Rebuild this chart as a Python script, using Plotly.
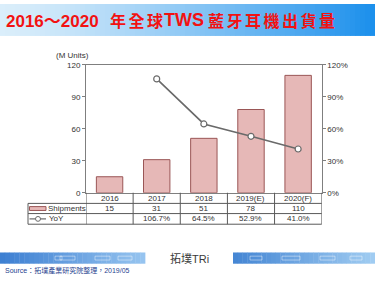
import plotly.graph_objects as go

# ---------------- data ----------------
categories = ["2016", "2017", "2018", "2019(E)", "2020(F)"]
shipments = [15, 31, 51, 78, 110]
yoy = [None, 106.7, 64.5, 52.9, 41.0]
yoy_labels = ["", "106.7%", "64.5%", "52.9%", "41.0%"]
left_ticks = [0, 30, 60, 90, 120]
right_ticks = [0, 30, 60, 90, 120]
right_tick_labels = ["0%", "30%", "60%", "90%", "120%"]

W, H = 375, 281
def py(p):
    return 1 - p / H
def px(p):
    return p / W

X0, X1 = 86, 321.7
Y0, Y1 = 62.7, 195

fig = go.Figure()
fig.add_trace(go.Bar(x=categories, y=shipments, marker=dict(color="#E6B8B7", line=dict(color="#9A5656", width=1)),
                     width=0.56, yaxis="y", showlegend=False, hoverinfo="skip"))
fig.add_trace(go.Scatter(x=categories, y=yoy, yaxis="y2", mode="lines+markers",
                         line=dict(color="#6A6A6A", width=1.6),
                         marker=dict(symbol="circle", size=6, color="white", line=dict(color="#6A6A6A", width=1.2)),
                         showlegend=False, hoverinfo="skip"))

shapes = []
# title banner gradient
n = 75
c0 = (218, 238, 251)
c1 = (28, 144, 236)
for i in range(n):
    t = i / (n - 1)
    t2 = t ** 1.3
    col = tuple(int(c0[k] + (c1[k] - c0[k]) * t2) for k in range(3))
    shapes.append(dict(type="rect", xref="paper", yref="paper", x0=px(W * i / n), x1=px(W * (i + 1) / n) + 0.002,
                       y0=py(33), y1=py(0), fillcolor="rgb(%d,%d,%d)" % col, line=dict(width=0), layer="below"))

# footer stripes
def stripe(xa, xb, ca, cb):
    m = 30
    for i in range(m):
        t = i / (m - 1)
        col = tuple(int(ca[k] + (cb[k] - ca[k]) * t) for k in range(3))
        shapes.append(dict(type="rect", xref="paper", yref="paper",
                           x0=px(xa + (xb - xa) * i / m), x1=px(xa + (xb - xa) * (i + 1) / m) + 0.001,
                           y0=py(268.3), y1=py(256.7), fillcolor="rgb(%d,%d,%d)" % col, line=dict(width=0), layer="below"))
stripe(0, 145, (62, 128, 210), (150, 196, 240))
stripe(233, 375, (70, 135, 212), (160, 204, 242))
for xa, xb in [(55, 62), (60, 75), (95, 110), (118, 132), (250, 262), (282, 300), (320, 335), (350, 362)]:
    shapes.append(dict(type="rect", xref="paper", yref="paper", x0=px(xa), x1=px(xb), y0=py(264.5), y1=py(260.5),
                       line=dict(color="rgba(255,255,255,0.55)", width=0.8), fillcolor="rgba(0,0,0,0)"))

# table grid
grid = "#5A5A5A"
tl, tr = 28, X1
rows = [206, 216.5, 227.5]
for r in rows:
    shapes.append(dict(type="line", xref="paper", yref="paper", x0=px(tl), x1=px(tr), y0=py(r), y1=py(r),
                       line=dict(color=grid, width=1)))
shapes.append(dict(type="line", xref="paper", yref="paper", x0=px(tl), x1=px(tl), y0=py(206), y1=py(227.5),
                   line=dict(color=grid, width=1)))
for b in range(len(categories) + 1):
    shapes.append(dict(type="line", xref="x", yref="paper", x0=b - 0.5, x1=b - 0.5, y0=py(195), y1=py(227.5),
                       line=dict(color=grid, width=1)))
# legend swatches
shapes.append(dict(type="rect", xref="paper", yref="paper", x0=px(29.5), x1=px(46), y0=py(213.3), y1=py(209.3),
                   fillcolor="#E6B8B7", line=dict(color="#9A5656", width=1)))
shapes.append(dict(type="line", xref="paper", yref="paper", x0=px(29.5), x1=px(46), y0=py(222), y1=py(222),
                   line=dict(color="#6A6A6A", width=1.2)))
shapes.append(dict(type="circle", xref="paper", yref="paper", x0=px(35.5), x1=px(40.5), y0=py(224.5), y1=py(219.5),
                   fillcolor="white", line=dict(color="#6A6A6A", width=1)))

ann = []
red = "#F21212"
ann.append(dict(text='2016<span style="font-family:Noto Sans CJK TC">～</span>2020', x=px(4), y=py(16.5),
                xref="paper", yref="paper", xanchor="left", yanchor="middle",
                showarrow=False, font=dict(family="Liberation Sans, Arial", size=17, color=red, weight="bold")))
ann.append(dict(text='<span style="letter-spacing:2.5px">年全球</span>', x=px(108), y=py(17), xref="paper", yref="paper",
                xanchor="left", yanchor="middle", showarrow=False,
                font=dict(family="Noto Sans CJK TC", size=16, color=red, weight="bold")))
ann.append(dict(text="TWS", x=px(162), y=py(16.5), xref="paper", yref="paper", xanchor="left", yanchor="middle",
                showarrow=False, font=dict(family="Liberation Sans, Arial", size=18, color=red, weight="bold")))
ann.append(dict(text='<span style="letter-spacing:2.5px">藍牙耳機出貨量</span>', x=px(206), y=py(17), xref="paper", yref="paper",
                xanchor="left", yanchor="middle", showarrow=False,
                font=dict(family="Noto Sans CJK TC", size=16, color=red, weight="bold")))

tf = dict(family="Liberation Sans, Arial", size=8, color="#333333")
ann.append(dict(text="(M Units)", x=px(91), y=py(53.3), xref="paper", yref="paper", xanchor="right", yanchor="middle",
                showarrow=False, font=tf))
for i, c in enumerate(categories):
    ann.append(dict(text=c, x=i, y=py(200.5), xref="x", yref="paper", xanchor="center", yanchor="middle",
                    showarrow=False, font=tf))
    ann.append(dict(text=str(shipments[i]), x=i, y=py(211.3), xref="x", yref="paper", xanchor="center", yanchor="middle",
                    showarrow=False, font=tf))
    ann.append(dict(text=yoy_labels[i], x=i, y=py(222), xref="x", yref="paper", xanchor="center", yanchor="middle",
                    showarrow=False, font=tf))
ann.append(dict(text="Shipments", x=px(46.3), y=py(211.3), xref="paper", yref="paper", xanchor="left", yanchor="middle",
                showarrow=False, font=tf))
ann.append(dict(text="YoY", x=px(47), y=py(222), xref="paper", yref="paper", xanchor="left", yanchor="middle",
                showarrow=False, font=tf))
# footer
ann.append(dict(text='<span style="font-family:Noto Sans CJK TC">拓墣</span>TR<span style="color:#444">i</span>',
                x=px(189), y=py(262.5), xref="paper", yref="paper", xanchor="center", yanchor="middle",
                showarrow=False, font=dict(family="Liberation Sans, Arial", size=11, color="#3A3A3A")))
ann.append(dict(text="Source：拓墣產業研究院整理，2019/05", x=px(3), y=py(275.5), xref="paper", yref="paper",
                xanchor="left", yanchor="middle", showarrow=False,
                font=dict(family="Liberation Sans, Noto Sans CJK TC", size=7, color="#1F3F8F")))

axis_common = dict(showline=True, linecolor="#7F7F7F", linewidth=1, ticks="outside", ticklen=3,
                   tickcolor="#7F7F7F", tickfont=dict(family="Liberation Sans, Arial", size=8, color="#333333"),
                   showgrid=False, zeroline=False, fixedrange=True)

fig.update_layout(
    width=W, height=H, margin=dict(l=0, r=0, t=0, b=0),
    paper_bgcolor="white", plot_bgcolor="white",
    xaxis=dict(domain=[px(X0), px(X1)], type="category", showticklabels=False, ticks="", showline=True,
               linecolor="#7F7F7F", mirror=True, showgrid=False, zeroline=False, fixedrange=True,
               range=[-0.5, 4.5]),
    yaxis=dict(domain=[py(Y1), py(Y0)], range=[0, 120], tickvals=left_ticks, **axis_common),
    yaxis2=dict(overlaying="y", side="right", range=[0, 120], tickvals=right_ticks, ticktext=right_tick_labels,
                anchor="x", **axis_common),
    shapes=shapes, annotations=ann, bargap=0.44,
)
fig.write_html("out.html")
